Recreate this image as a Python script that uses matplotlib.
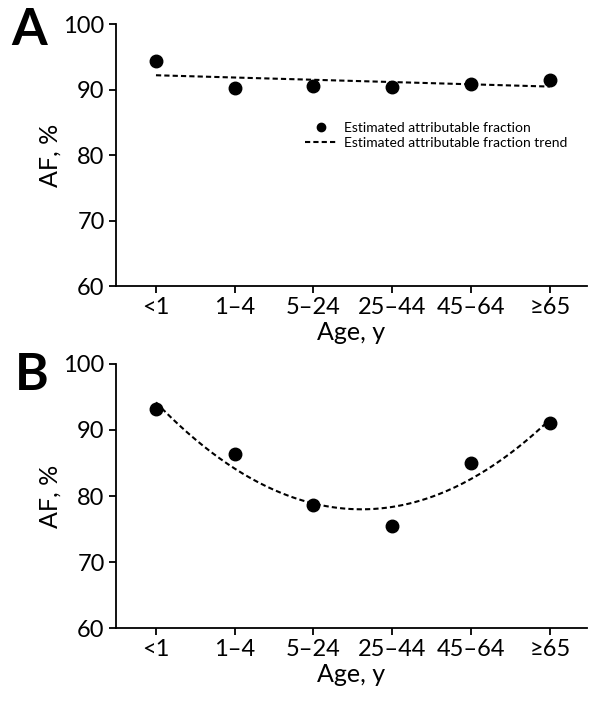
import numpy as np
import matplotlib
matplotlib.use("Agg")
import matplotlib.pyplot as plt
from matplotlib.lines import Line2D

plt.rcParams['font.family'] = ['Lato', 'DejaVu Sans']

# age groups
ages = ['<1', '1–4', '5–24', '25–44', '45–64', '≥65']
# attributable fraction, %
af_a = [94.3, 90.2, 90.6, 90.4, 90.9, 91.5]
af_b = [93.2, 86.4, 78.6, 75.5, 85.0, 91.0]

x = np.arange(len(ages))
xs = np.linspace(0, len(ages) - 1, 200)

# trend lines: linear fit for A, quadratic fit for B
trend_a = np.polyval(np.polyfit(x, af_a, 1), xs)
trend_b = np.polyval(np.polyfit(x, af_b, 2), xs)

fig = plt.figure(figsize=(6, 7.05), dpi=100)
ax1 = fig.add_axes([0.193, 0.5943, 0.785, 0.3716])
ax2 = fig.add_axes([0.193, 0.1092, 0.785, 0.3745])

dash = (0, (2.5, 1.5))


def style(ax):
    ax.set_xlim(-0.51, 5.47)
    ax.set_ylim(60, 100)
    ax.set_yticks([60, 70, 80, 90, 100])
    ax.set_xticks(x)
    ax.set_xticklabels(ages)
    ax.spines['top'].set_visible(False)
    ax.spines['right'].set_visible(False)
    for s in ['left', 'bottom']:
        ax.spines[s].set_linewidth(1.3)
    ax.tick_params(width=1.3, length=5, labelsize=17, pad=3)
    ax.set_xlabel('Age, y', fontsize=18, labelpad=2)
    ax.set_ylabel('AF, %', fontsize=18, labelpad=1)


for ax, vals, tr in [(ax1, af_a, trend_a), (ax2, af_b, trend_b)]:
    ax.plot(xs, tr, color='black', linestyle=dash, linewidth=1.5)
    ax.plot(x, vals, 'o', color='black', markersize=9, clip_on=False)
    style(ax)

handles = [Line2D([], [], marker='o', color='black', linestyle='none', markersize=6),
           Line2D([], [], color='black', linestyle=dash, linewidth=1.5)]
ax1.legend(handles, ['Estimated attributable fraction', 'Estimated attributable fraction trend'],
           loc='center left', bbox_to_anchor=(0.375, 0.575), frameon=False, fontsize=10,
           handlelength=2.3, handletextpad=0.5, labelspacing=0.25)

fig.text(0.018, 0.99, 'A', fontsize=37, fontweight='bold', va='top')
fig.text(0.025, 0.5, 'B', fontsize=37, fontweight='bold', va='top')

fig.savefig('out.png', dpi=100)
